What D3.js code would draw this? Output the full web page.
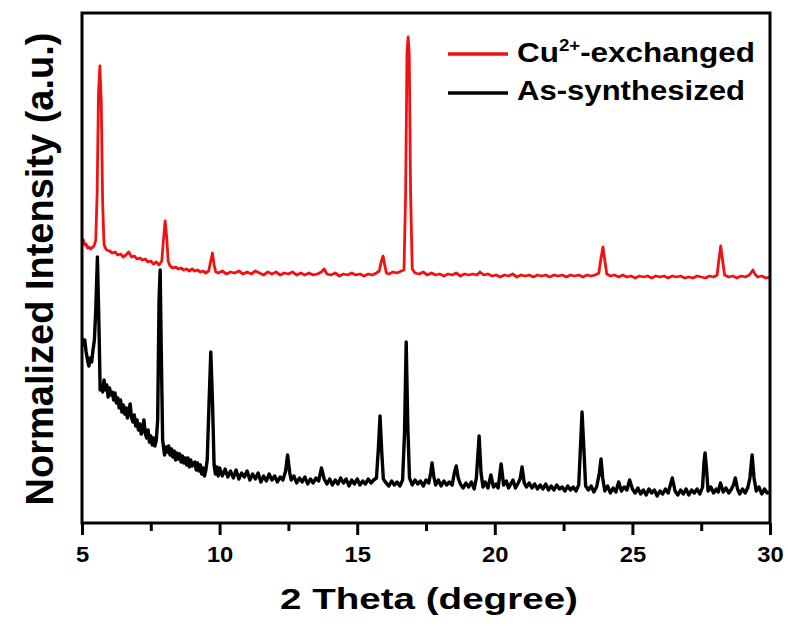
<!DOCTYPE html>
<meta charset="utf-8">
<script src="https://d3js.org/d3.v7.min.js"></script>
<style>
  body { margin: 0; background: #fff; }
  text { font-family: "Liberation Sans", Arial, sans-serif; font-weight: bold; fill: #000; }
</style>
<body>
<div id="graph"></div>
<script>
  // XRD patterns, [2theta, intensity (a.u.)]
  var asSynthesized = [
    [5.0,185],[5.05,178],[5.1,183],[5.15,171],[5.2,163],[5.25,157],[5.3,165],[5.35,161],[5.4,173],[5.45,183],
    [5.5,213],[5.56,266],[5.62,193],[5.66,133],[5.7,138],[5.75,131],[5.8,143],[5.85,133],[5.9,138],[5.95,126],
    [6.0,135],[6.05,128],[6.1,131],[6.15,123],[6.2,130],[6.25,120],[6.3,125],[6.35,115],[6.4,123],[6.45,111],
    [6.5,118],[6.55,109],[6.6,115],[6.65,105],[6.7,113],[6.75,119],[6.8,105],[6.85,101],[6.9,108],[6.95,97],
    [7.0,103],[7.05,93],[7.1,99],[7.15,89],[7.2,95],[7.25,103],[7.3,89],[7.35,85],[7.4,93],[7.45,81],
    [7.5,87],[7.55,78],[7.6,85],[7.65,77],[7.7,83],[7.75,103],[7.8,223],[7.84,253],[7.88,173],[7.93,83],
    [8.0,68],[8.05,76],[8.1,71],[8.15,77],[8.2,68],[8.25,74],[8.3,66],[8.35,72],[8.4,63],[8.45,70],
    [8.5,64],[8.55,69],[8.6,61],[8.65,67],[8.7,60],[8.75,65],[8.8,58],[8.85,65],[8.9,56],[8.95,63],
    [9.0,57],[9.1,61],[9.15,53],[9.2,60],[9.25,52],[9.3,58],[9.35,49],[9.4,55],[9.45,47],[9.5,53],
    [9.55,63],[9.62,123],[9.68,171],[9.74,123],[9.8,58],[9.85,49],[9.9,56],[9.95,47],
    [10.0,55],[10.1,47],[10.2,54],[10.3,46],[10.4,52],[10.5,45],[10.6,53],[10.7,44],[10.8,50],[10.9,46],
    [11.0,52],[11.1,43],[11.2,49],[11.3,44],[11.4,50],[11.5,41],[11.6,47],[11.7,42],[11.8,49],[11.9,43],
    [12.0,47],[12.1,41],[12.2,46],[12.3,43],[12.4,52],[12.47,68],[12.55,50],[12.6,43],[12.7,47],[12.8,40],
    [12.9,45],[13.0,41],[13.1,46],[13.2,39],[13.3,44],[13.4,40],[13.5,45],[13.6,42],[13.7,55],[13.8,44],
    [13.9,39],[14.0,44],[14.1,38],[14.2,43],[14.3,39],[14.4,45],[14.5,40],[14.6,44],[14.7,37],[14.8,43],
    [14.9,39],[15.0,44],[15.1,38],[15.2,42],[15.3,39],[15.4,44],[15.5,40],[15.6,43],[15.7,45],[15.77,75],
    [15.83,107],[15.89,72],[15.95,44],[16.05,40],[16.15,37],[16.25,42],[16.35,38],[16.45,41],[16.55,37],[16.65,43],
    [16.72,90],[16.78,181],[16.84,95],[16.9,45],[17.0,38],[17.1,43],[17.2,39],[17.3,42],[17.4,37],[17.5,43],
    [17.6,40],[17.67,50],[17.72,60],[17.78,47],[17.85,38],[17.95,43],[18.05,37],[18.15,42],[18.25,38],[18.35,41],
    [18.45,38],[18.53,50],[18.6,57],[18.67,45],[18.75,39],[18.85,35],[18.95,40],[19.05,36],[19.15,41],[19.25,34],
    [19.33,45],[19.43,87],[19.5,50],[19.57,36],[19.65,41],[19.75,35],[19.86,48],[19.95,36],[20.05,39],[20.12,35],
    [20.23,59],[20.32,38],[20.42,42],[20.5,35],[20.58,39],[20.66,43],[20.75,35],[20.85,40],[20.92,44],[20.99,56],
    [21.07,40],[21.15,36],[21.25,40],[21.35,35],[21.45,39],[21.55,34],[21.65,38],[21.75,34],[21.85,39],[21.95,33],
    [22.05,37],[22.15,33],[22.25,38],[22.35,34],[22.45,36],[22.55,32],[22.65,37],[22.75,33],[22.85,36],[22.95,32],
    [23.05,38],[23.12,80],[23.17,111],[23.23,78],[23.3,37],[23.4,33],[23.5,37],[23.6,31],[23.7,36],[23.8,50],
    [23.86,64],[23.92,45],[24.0,32],[24.1,37],[24.2,30],[24.3,35],[24.4,31],[24.5,41],[24.6,32],[24.7,36],
    [24.8,33],[24.9,43],[25.0,34],[25.1,30],[25.2,35],[25.3,29],[25.4,33],[25.5,28],[25.6,34],[25.7,30],
    [25.8,33],[25.9,27],[26.0,32],[26.1,29],[26.2,34],[26.3,30],[26.45,45],[26.55,32],[26.65,28],[26.75,33],
    [26.85,29],[26.95,34],[27.05,28],[27.15,33],[27.25,30],[27.35,34],[27.45,29],[27.55,36],[27.6,60],[27.64,70],
    [27.69,55],[27.75,32],[27.85,36],[27.95,30],[28.05,34],[28.12,31],[28.2,40],[28.3,31],[28.4,35],[28.5,30],
    [28.6,34],[28.67,38],[28.74,45],[28.82,34],[28.9,29],[29.0,34],[29.1,30],[29.2,36],[29.27,45],[29.35,68],
    [29.42,45],[29.5,32],[29.6,36],[29.7,29],[29.8,34],[29.9,30],[30.0,31]
  ];

  var cuExchanged = [
    [5.0,281],[5.05,283],[5.1,278],[5.15,279],[5.2,275],[5.25,276],[5.3,274],[5.35,275],[5.4,276],[5.45,278],
    [5.5,283],[5.55,330],[5.6,430],[5.65,457],[5.7,420],[5.75,320],[5.8,279],[5.85,275],[5.9,273],[6.0,272],
    [6.1,270],[6.2,271],[6.3,268],[6.4,269],[6.5,266],[6.6,268],[6.7,271],[6.8,266],[6.9,267],[7.0,264],
    [7.1,265],[7.2,263],[7.3,264],[7.4,261],[7.5,262],[7.6,259],[7.7,261],[7.8,258],[7.9,262],[7.95,280],
    [8.02,302],[8.08,285],[8.13,262],[8.2,257],[8.3,255],[8.4,256],[8.5,254],[8.6,255],[8.7,253],[8.8,254],
    [8.9,252],[9.0,254],[9.1,252],[9.2,253],[9.3,251],[9.4,252],[9.5,250],[9.6,252],[9.68,262],[9.74,270],
    [9.8,258],[9.86,251],[9.95,250],[10.1,252],[10.25,249],[10.4,251],[10.55,250],[10.7,252],[10.85,249],[11.0,251],
    [11.15,249],[11.3,252],[11.45,250],[11.6,248],[11.75,251],[11.9,249],[12.05,251],[12.2,248],[12.35,250],[12.5,249],
    [12.65,251],[12.8,248],[12.95,250],[13.1,248],[13.25,250],[13.4,248],[13.55,249],[13.7,251],[13.8,254],[13.9,249],
    [14.05,248],[14.2,250],[14.35,247],[14.5,249],[14.65,248],[14.8,250],[14.95,248],[15.1,249],[15.25,247],[15.4,249],
    [15.55,248],[15.7,250],[15.8,252],[15.88,262],[15.94,267],[16.0,258],[16.06,250],[16.15,249],[16.3,251],[16.45,250],
    [16.6,252],[16.7,253],[16.76,330],[16.81,470],[16.85,486],[16.89,470],[16.94,330],[17.0,254],[17.1,250],[17.25,249],
    [17.4,251],[17.55,248],[17.7,250],[17.85,248],[18.0,249],[18.15,247],[18.3,249],[18.45,248],[18.6,250],[18.75,247],
    [18.9,249],[19.05,248],[19.2,249],[19.35,248],[19.46,251],[19.6,248],[19.75,249],[19.9,247],[20.05,248],[20.2,246],
    [20.35,248],[20.5,247],[20.65,249],[20.8,246],[20.95,248],[21.1,247],[21.25,248],[21.4,246],[21.55,248],[21.7,247],
    [21.85,248],[22.0,246],[22.15,248],[22.3,247],[22.45,248],[22.6,246],[22.75,248],[22.9,247],[23.05,248],[23.2,246],
    [23.35,248],[23.5,247],[23.65,248],[23.78,250],[23.86,265],[23.93,276],[24.0,262],[24.07,249],[24.2,247],[24.35,248],
    [24.5,246],[24.65,248],[24.8,246],[24.95,247],[25.1,245],[25.25,247],[25.4,246],[25.55,247],[25.7,245],[25.85,247],
    [26.0,246],[26.15,247],[26.3,245],[26.45,247],[26.6,246],[26.75,247],[26.9,245],[27.05,246],[27.2,245],[27.35,247],
    [27.5,246],[27.65,245],[27.8,247],[27.95,246],[28.08,248],[28.15,265],[28.21,277],[28.28,262],[28.35,248],[28.5,246],
    [28.65,247],[28.8,245],[28.95,247],[29.1,246],[29.25,248],[29.38,253],[29.45,249],[29.55,246],[29.7,247],[29.85,245],
    [30.0,246]
  ];

  var majorTicks = [5, 10, 15, 20, 25, 30];
  var minorTicks = [7.5, 12.5, 17.5, 22.5, 27.5];
  var seriesNames = ["Cu2+-exchanged", "As-synthesized"];
  var seriesColors = ["#f21111", "#000000"];

  var margin = { top: 13, right: 18, bottom: 103, left: 82 },
    width = 788 - margin.left - margin.right,
    height = 626 - margin.top - margin.bottom;

  var svg = d3.select("#graph")
    .append("svg")
    .attr("width", 788)
    .attr("height", 626)
    .append("g")
    .attr("transform", "translate(" + margin.left + "," + margin.top + ")");

  var x = d3.scaleLinear().domain([5, 30]).range([0, width]);
  var y = d3.scaleLinear().domain([0, 510]).range([height, 0]);

  // stretch a text node horizontally so it spans the wanted width
  function fitWidth(node, target, x0) {
    var w = node.getBBox().width;
    var s = target / w;
    d3.select(node).attr("transform",
      "translate(" + x0 + ",0) scale(" + s + ",1) translate(" + (-x0) + ",0)");
  }

  svg.append("clipPath").attr("id", "clip")
    .append("rect").attr("width", width).attr("height", height);

  var line = d3.line()
    .x(function (d) { return x(d[0]); })
    .y(function (d) { return y(d[1]); });

  svg.append("path")
    .datum(asSynthesized)
    .attr("clip-path", "url(#clip)")
    .attr("fill", "none")
    .attr("stroke", seriesColors[1])
    .attr("stroke-width", 3.4)
    .attr("stroke-linejoin", "round")
    .attr("d", line);

  svg.append("path")
    .datum(cuExchanged)
    .attr("clip-path", "url(#clip)")
    .attr("fill", "none")
    .attr("stroke", seriesColors[0])
    .attr("stroke-width", 2.8)
    .attr("stroke-linejoin", "round")
    .attr("d", line);

  // minor ticks
  var minorAxis = svg.append("g")
    .attr("transform", "translate(0," + height + ")")
    .call(d3.axisBottom(x).tickValues(minorTicks).tickSize(8).tickSizeOuter(0).tickFormat(""));
  minorAxis.select(".domain").remove();
  minorAxis.selectAll("line").attr("stroke-width", 3);

  // major ticks + labels
  var xAxis = svg.append("g")
    .attr("transform", "translate(0," + height + ")")
    .call(d3.axisBottom(x).tickValues(majorTicks).tickSize(12).tickSizeOuter(0).tickFormat(d3.format("d")));
  xAxis.select(".domain").remove();
  xAxis.selectAll("line").attr("stroke-width", 3);
  xAxis.selectAll("text")
    .attr("y", 39)
    .attr("dy", null)
    .style("font-size", "22px")
    .style("font-family", "'Liberation Sans', Arial, sans-serif")
    .style("font-weight", "bold")
    .attr("transform", "scale(1.08,1)");

  // frame
  svg.append("rect")
    .attr("width", width)
    .attr("height", height)
    .attr("fill", "none")
    .attr("stroke", "#000")
    .attr("stroke-width", 3);

  // axis titles
  var xt = svg.append("text")
    .attr("x", width / 2 + 3)
    .attr("y", height + 86)
    .attr("text-anchor", "middle")
    .style("font-size", "30px")
    .text("2 Theta (degree)");
  fitWidth(xt.node(), 298, width / 2 + 3);

  var yt = svg.append("text")
    .attr("transform", "translate(" + (53 - margin.left) + "," + (269 - margin.top) + ") rotate(-90)")
    .attr("text-anchor", "middle")
    .style("font-size", "38px")
    .text("Normalized Intensity (a.u.)");

  // legend
  var legend = svg.append("g");
  var legendRows = [
    { color: seriesColors[0], lineY: 54, textY: 62, w: 238 },
    { color: seriesColors[1], lineY: 93, textY: 100, w: 228 }
  ];
  legendRows.forEach(function (r, i) {
    legend.append("line")
      .attr("x1", 448 - margin.left).attr("x2", 508 - margin.left)
      .attr("y1", r.lineY - margin.top).attr("y2", r.lineY - margin.top)
      .attr("stroke", r.color)
      .attr("stroke-width", 3.5);
    var t = legend.append("text")
      .attr("x", 517 - margin.left)
      .attr("y", r.textY - margin.top)
      .style("font-size", "27px");
    if (i === 0) {
      t.append("tspan").text("Cu");
      t.append("tspan").attr("dy", -11).style("font-size", "16px").text("2+");
      t.append("tspan").attr("dy", 11).text("-exchanged");
    } else {
      t.text(seriesNames[1]);
    }
    fitWidth(t.node(), r.w, 517 - margin.left);
  });
</script>
</body>
